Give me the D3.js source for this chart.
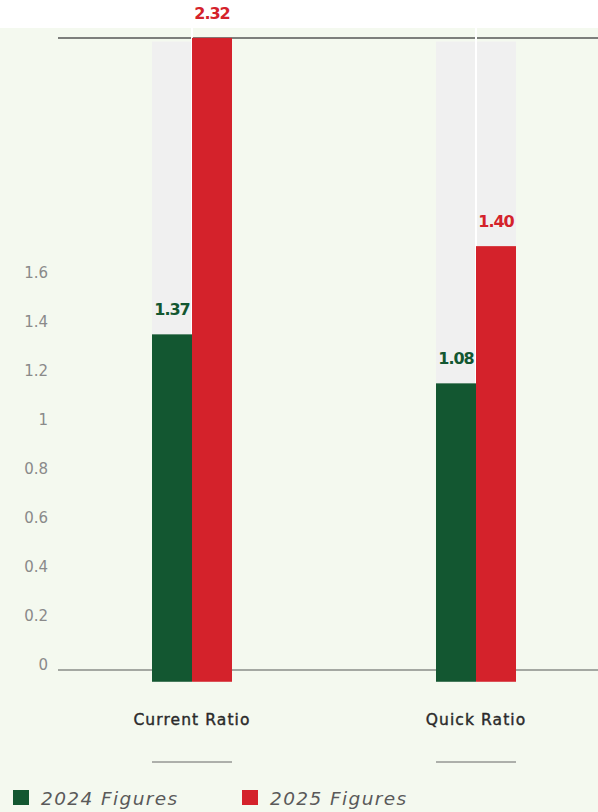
<!DOCTYPE html>
<html><head><meta charset="utf-8">
<script src="https://cdn.jsdelivr.net/npm/d3@7/dist/d3.min.js"></script>
<style>
html,body{margin:0;padding:0;background:#fff;}
svg{display:block;}
</style></head>
<body>
<svg id="chart" width="598" height="812"></svg>
<script>
// ---- data ----
const categories = ["Current Ratio", "Quick Ratio"];
const seriesNames = ["2024 Figures", "2025 Figures"];
// bar heights as drawn in the reference (value scale of the y axis)
const values2024 = [1.37, 1.17];
const values2025 = [2.58, 1.73];
// printed value labels
const labels2024 = ["1.37", "1.08"];
const labels2025 = ["2.32", "1.40"];
const yTicks = [0, 0.2, 0.4, 0.6, 0.8, 1, 1.2, 1.4, 1.6];
const trackMax = 2.565;
const baseValue = -0.048;

const colors = ["#135731", "#d4222b"];
const W = 598, H = 812;
const FONT = "'DejaVu Sans', sans-serif";
const svg = d3.select("#chart");

// background
svg.append("rect").attr("x",0).attr("y",0).attr("width",W).attr("height",H).attr("fill","#fff");
svg.append("rect").attr("x",0).attr("y",28).attr("width",W).attr("height",H-28).attr("fill","#f4f9ef");

const y = d3.scaleLinear().domain([0, 1.6]).range([670, 278]);
const x0 = d3.scaleBand().domain(categories).range([50, 618]);
const x1 = d3.scaleBand().domain(seriesNames).range([-40, 40]);

const rows = categories.map((c,i)=>({cat:c, vals:[values2024[i], values2025[i]], labs:[labels2024[i], labels2025[i]]}));
const maxVal = d3.max([...values2024, ...values2025]);

const lineStart = 58;
// top line
svg.append("line").attr("x1",lineStart).attr("x2",W)
  .attr("y1",y(maxVal)).attr("y2",y(maxVal))
  .attr("stroke","#7d7f7c").attr("stroke-width",2);
// baseline
svg.append("line").attr("x1",lineStart).attr("x2",W)
  .attr("y1",y(0)).attr("y2",y(0))
  .attr("stroke","#8a8c88").attr("stroke-width",1.5);

const g = svg.selectAll("g.grp").data(rows).join("g").attr("class","grp")
  .attr("transform", d=>`translate(${x0(d.cat)+x0.bandwidth()/2},0)`);

// tracks
g.selectAll("rect.track").data(d=>d.vals.map((v,j)=>({s:seriesNames[j]})))
  .join("rect").attr("class","track")
  .attr("x", d=>x1(d.s)).attr("width", x1.bandwidth())
  .attr("y", y(trackMax)).attr("height", y(baseValue)-y(trackMax))
  .attr("fill","#f0f0f0");
// white separator
g.append("line").attr("x1",0).attr("x2",0).attr("y1",28).attr("y2",y(baseValue))
  .attr("stroke","#fff").attr("stroke-width",2);
// bars
const barData = d=>d.vals.map((v,j)=>({s:seriesNames[j], v, j, lab:d.labs[j]}));
g.selectAll("rect.bar").data(barData)
  .join("rect").attr("class","bar")
  .attr("x", d=>x1(d.s)).attr("width", x1.bandwidth())
  .attr("y", d=>y(d.v)).attr("height", d=>y(baseValue)-y(d.v))
  .attr("fill", d=>colors[d.j]);
// value labels
g.selectAll("text.val").data(barData)
  .join("text").attr("class","val")
  .attr("x", d=>x1(d.s)+x1.bandwidth()/2)
  .attr("y", d=>y(d.v)-19)
  .attr("text-anchor","middle")
  .attr("font-family",FONT).attr("font-weight","bold").attr("font-size",16)
  .attr("letter-spacing","-1")
  .attr("fill", d=>colors[d.j])
  .text(d=>d.lab);

// y axis
const yAxis = svg.append("g").attr("transform",`translate(${lineStart},0)`)
  .call(d3.axisLeft(y).tickValues(yTicks).tickSize(0).tickPadding(10).tickFormat(d3.format("~g")));
yAxis.select(".domain").remove();
yAxis.selectAll("text").attr("dy","0.35em").attr("transform","translate(0,-6)")
  .attr("font-family",FONT).attr("font-size",15).attr("fill","#8a8a8a");

// category labels
g.append("text").attr("x",0).attr("y",725).attr("text-anchor","middle")
  .attr("font-family",FONT).attr("font-size",15.5).attr("letter-spacing","1.1")
  .attr("fill","#2a2a2a").attr("stroke","#2a2a2a").attr("stroke-width",0.4).text(d=>d.cat);
g.append("line").attr("x1",x1(seriesNames[0])).attr("x2",x1(seriesNames[1])+x1.bandwidth())
  .attr("y1",762).attr("y2",762).attr("stroke","#666").attr("stroke-width",1);

// legend
const leg = svg.selectAll("g.leg").data(seriesNames).join("g").attr("class","leg")
  .attr("transform",(d,i)=>`translate(${13+i*229},790)`);
leg.append("rect").attr("width",16).attr("height",15).attr("fill",(d,i)=>colors[i]);
leg.append("text").attr("x",28).attr("y",15)
  .attr("font-family",FONT).attr("font-style","italic").attr("letter-spacing","1.4")
  .attr("font-size",18.5).attr("fill","#5a5a5a").text(d=>d);
</script>
</body></html>
